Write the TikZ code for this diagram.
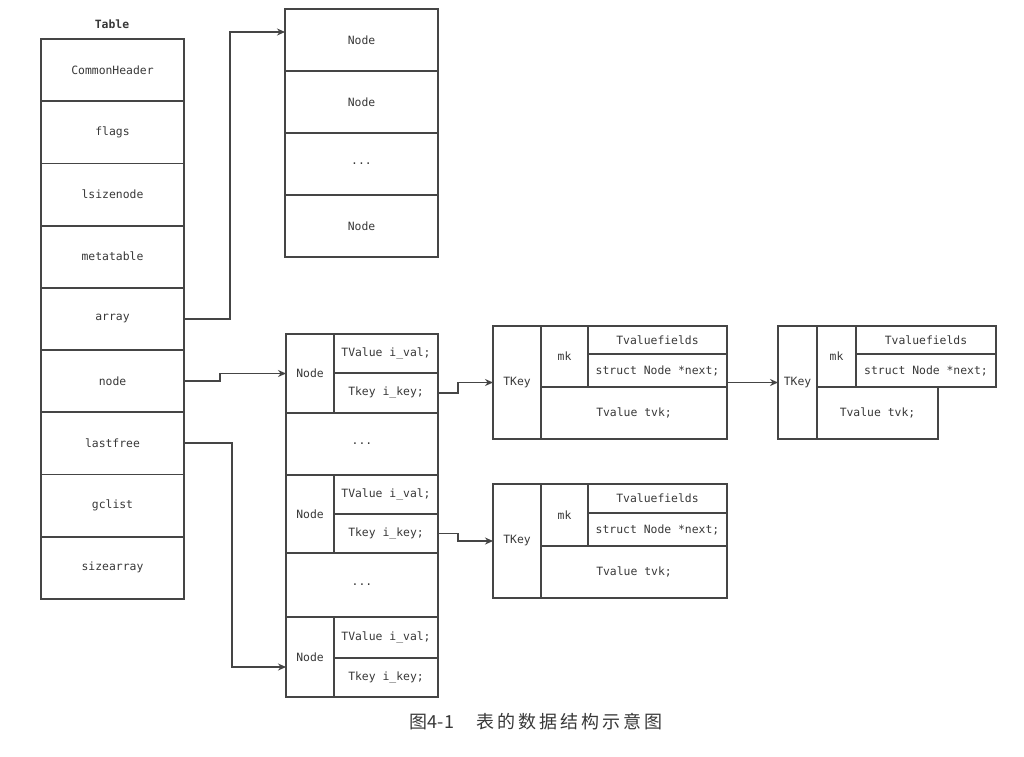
\documentclass[tikz,border=0pt]{standalone}
\usepackage{fontspec}
\newfontfamily\mono{DejaVu Sans Mono}
\newfontfamily\cjk{Noto Sans CJK SC}
\usetikzlibrary{arrows.meta}
\definecolor{lc}{HTML}{454545}
\definecolor{tc}{HTML}{383838}
\tikzset{
  cell/.style={draw=lc, line width=1.8pt, inner sep=0pt, outer sep=0pt, anchor=north west,
    font=\mono\fontsize{11.4}{13}\selectfont, text=tc},
  conn/.style={draw=lc, line width=1.8pt, -{Stealth[length=8pt,width=7pt]}},
}
\newcommand\cellat[6]{\node[cell,minimum width=#4pt,minimum height=#5pt] (#1) at (#2,#3) {#6};}
\begin{document}
\begin{tikzpicture}[x=1pt,y=-1pt]
\useasboundingbox (0,0) rectangle (1024,756);
\fill[white] (0,0) rectangle (1024,756);
% Table
\node[font=\mono\bfseries\fontsize{11.4}{13}\selectfont, text=tc] (tlabel) at (112,24) {Table};
\cellat{t1}{41}{39}{143}{62.2}{CommonHeader}
\cellat{t2}{41}{101.2}{143}{62.2}{flags}
\cellat{t3}{41}{163.4}{143}{62.2}{lsizenode}
\cellat{t4}{41}{225.6}{143}{62.2}{metatable}
\cellat{t5}{41}{287.8}{143}{62.2}{array}
\cellat{t6}{41}{350}{143}{62.2}{node}
\cellat{t7}{41}{412.2}{143}{62.2}{lastfree}
\cellat{t8}{41}{474.4}{143}{62.2}{gclist}
\cellat{t9}{41}{536.6}{143}{62.2}{sizearray}
% array part
\cellat{a1}{285}{9}{153}{62}{Node}
\cellat{a2}{285}{71}{153}{62}{Node}
\cellat{a3}{285}{133}{153}{62}{...}
\cellat{a4}{285}{195}{153}{62}{Node}
% node part
\cellat{N1}{286}{334}{48}{79}{Node}
\cellat{V1}{334}{334}{104}{39}{TValue i\_val;}
\cellat{K1}{334}{373}{104}{40}{Tkey i\_key;}
\cellat{D1}{286}{413}{152}{62}{...}
\cellat{N2}{286}{475}{48}{78}{Node}
\cellat{V2}{334}{475}{104}{39}{TValue i\_val;}
\cellat{K2}{334}{514}{104}{39}{Tkey i\_key;}
\cellat{D2}{286}{553}{152}{64}{...}
\cellat{N3}{286}{617}{48}{80}{Node}
\cellat{V3}{334}{617}{104}{41}{TValue i\_val;}
\cellat{K3}{334}{658}{104}{39}{Tkey i\_key;}
% TKey box 1
\cellat{TK1}{493}{326}{48}{113}{TKey}
\cellat{M1}{541}{326}{47}{61}{mk}
\cellat{F1}{588}{326}{139}{28}{Tvaluefields}
\cellat{S1}{588}{354}{139}{33}{struct Node *next;}
\cellat{T1}{541}{387}{186}{52}{Tvalue tvk;}
% TKey box 2
\cellat{TK2}{778}{326}{39}{113}{TKey}
\cellat{M2}{817}{326}{39}{61}{mk}
\cellat{F2}{856}{326}{140}{28}{Tvaluefields}
\cellat{S2}{856}{354}{140}{33}{struct Node *next;}
\cellat{T2}{817}{387}{121}{52}{Tvalue tvk;}
% TKey box 3
\cellat{TK3}{493}{484}{48}{114}{TKey}
\cellat{M3}{541}{484}{47}{62}{mk}
\cellat{F3}{588}{484}{139}{29}{Tvaluefields}
\cellat{S3}{588}{513}{139}{33}{struct Node *next;}
\cellat{T3}{541}{546}{186}{52}{Tvalue tvk;}
% connectors
\draw[conn] (t5.east) -- ++(46,0) |- ([yshift=8pt]a1.west);
\draw[conn] (t6.east) -- ++(36,0) |- (N1.west);
\draw[conn] (t7.east) -- ++(48,0) |- ([yshift=-10pt]N3.west);
\draw[conn] (K1.east) -- ++(20,0) |- (TK1.west);
\draw[conn] (K2.east) -- ++(20,0) |- (TK3.west);
\draw[conn] (S1.east |- TK2.west) -- (TK2.west);
% caption
\node[text=tc, font=\cjk\fontsize{18}{20}\selectfont] (cap) at (536,722)
  {图4-1\hspace{22pt}表\hspace{3pt}的\hspace{3pt}数\hspace{3pt}据\hspace{3pt}结\hspace{3pt}构\hspace{3pt}示\hspace{3pt}意\hspace{3pt}图};
\end{tikzpicture}
\end{document}
